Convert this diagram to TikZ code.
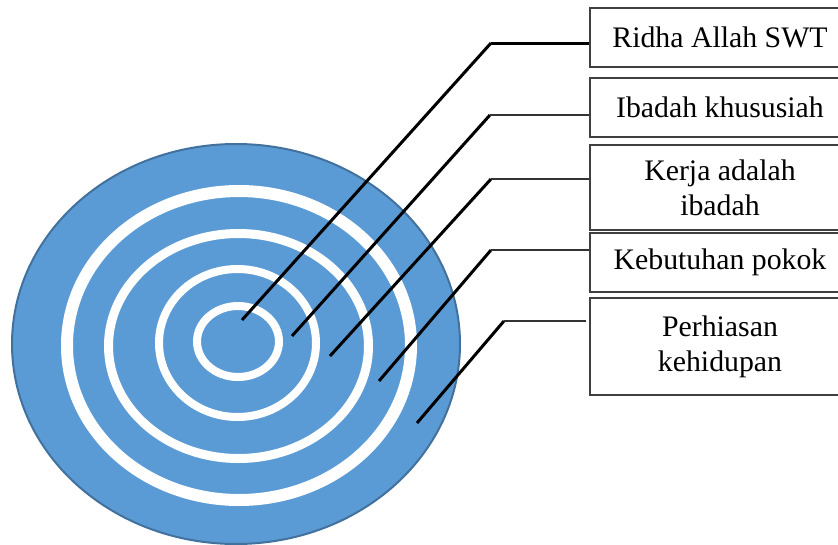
\documentclass[tikz,border=0pt]{standalone}
\usepackage{fontspec}
\setmainfont{Liberation Serif}
\definecolor{discblue}{HTML}{5B9BD5}
\definecolor{discedge}{HTML}{41719C}
\begin{document}
\begin{tikzpicture}[x=1pt,y=-1pt,
  labelbox/.style={draw=black!75, line width=1.4pt, rectangle, inner sep=0pt,
    minimum width=260pt, align=center,
    font=\fontsize{29.8}{35}\selectfont},
  ring/.style={draw=white},
  pointer/.style={line width=3pt, black},
  leader/.style={line width=1.8pt, black!80}]
\useasboundingbox (0,0) rectangle (838,544);
% disc
\fill[discblue, draw=discedge, line width=2pt] (236,344) ellipse [x radius=224pt, y radius=200pt];
\draw[ring, line width=12pt] (239,345.5) ellipse [x radius=172pt, y radius=154.5pt];
\draw[ring, line width=9pt] (238.5,346) ellipse [x radius=130pt, y radius=112.5pt];
\draw[ring, line width=8pt] (237.5,343) ellipse [x radius=78.5pt, y radius=74pt];
\draw[ring, line width=8pt] (238,341.5) ellipse [x radius=41pt, y radius=35.5pt];
% boxes
\node[labelbox, minimum height=59pt] (b1) at (720,37.5) {Ridha Allah SWT};
\node[labelbox, minimum height=59pt] (b2) at (720,107.5) {Ibadah khususiah};
\node[labelbox, minimum height=85pt] (b3) at (720,187.5) {Kerja adalah\\ibadah};
\node[labelbox, minimum height=59pt] (b4) at (720,262.5) {Kebutuhan pokok};
\node[labelbox, minimum height=97pt] (b5) at (720,346.5) {Perhiasan\\kehidupan};
% connector points
\coordinate (e1) at (242,320); \coordinate (k1) at (491,43);
\coordinate (e2) at (292,336); \coordinate (k2) at (490,115);
\coordinate (e3) at (330,356); \coordinate (k3) at (491,179);
\coordinate (e4) at (379,381); \coordinate (k4) at (491,250);
\coordinate (e5) at (417,423); \coordinate (k5) at (504,321);
\coordinate (t5) at (586,321);
% connectors
\draw[pointer] (e1) -- (k1);
\draw[pointer] (k1) -- (b1.west |- k1);
\draw[pointer] (e2) -- (k2);
\draw[leader] (k2) -- (b2.west |- k2);
\draw[pointer] (e3) -- (k3);
\draw[leader] (k3) -- (b3.west |- k3);
\draw[pointer] (e4) -- (k4);
\draw[leader] (k4) -- (b4.west |- k4);
\draw[pointer] (e5) -- (k5);
\draw[leader] (k5) -- (t5);
\end{tikzpicture}
\end{document}
